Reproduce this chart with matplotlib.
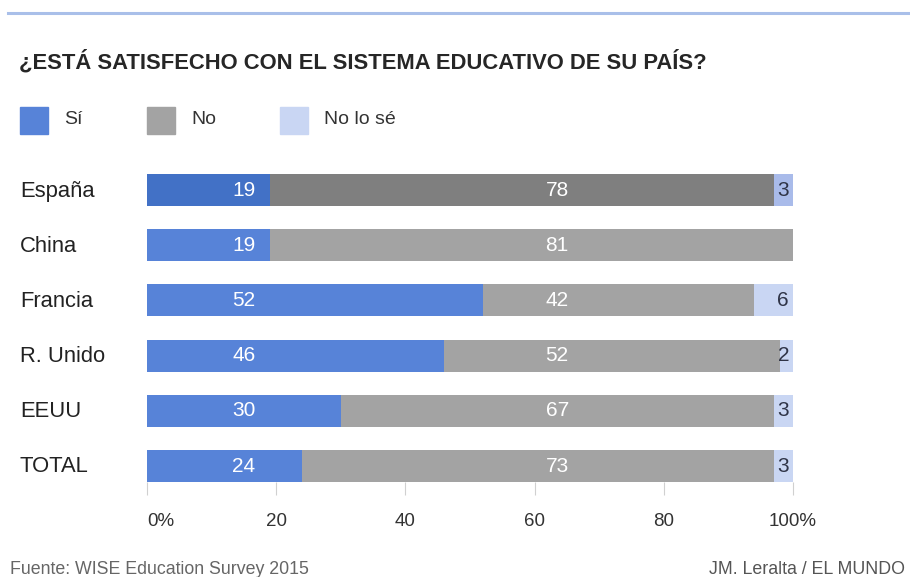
import matplotlib
matplotlib.use("Agg")
import matplotlib.pyplot as plt
from matplotlib import font_manager as fm
from matplotlib.patches import Rectangle
from matplotlib.lines import Line2D

names = {f.name for f in fm.fontManager.ttflist}
REG = "Liberation Sans" if "Liberation Sans" in names else "DejaVu Sans"

categories = ["España", "China", "Francia", "R. Unido", "EEUU", "TOTAL"]
si = [19, 19, 52, 46, 30, 24]
no = [78, 81, 42, 52, 67, 73]
nose = [3, 0, 6, 2, 3, 3]
xticks = [0, 20, 40, 60, 80, 100]
xticklabels = ["0%", "20", "40", "60", "80", "100%"]
series_names = ["Sí", "No", "No lo sé"]

c_si, c_no, c_ns = "#5783d8", "#a3a3a3", "#c9d6f3"
c_si_h, c_no_h, c_ns_h = "#4271c6", "#7f7f7f", "#a9bbea"

W, H = 910, 577
fig = plt.figure(figsize=(W / 100, H / 100), dpi=100)

def fx(px):
    return px / W
def fy(py):
    return 1 - py / H

top_px, bot_px = 160, 482
ax = fig.add_axes([fx(147), fy(bot_px), fx(793) - fx(147), (bot_px - top_px) / H])
spacing = 55.2
ax.set_xlim(0, 100)
ax.set_ylim((bot_px - 190) / spacing, (top_px - 190) / spacing)
for s in ax.spines.values():
    s.set_visible(False)

# value labels sit at fixed columns, as in the original
lab_x_si, lab_x_no, lab_x_ns = 15, 63.5, 99.4

ys = list(range(len(categories)))
bh = 32 / spacing
for i, y in enumerate(ys):
    hl = i == 0
    cs = (c_si_h, c_no_h, c_ns_h) if hl else (c_si, c_no, c_ns)
    ax.barh(y, si[i], left=0, height=bh, color=cs[0], linewidth=0)
    ax.barh(y, no[i], left=si[i], height=bh, color=cs[1], linewidth=0)
    if nose[i]:
        ax.barh(y, nose[i], left=si[i] + no[i], height=bh, color=cs[2], linewidth=0)
    ax.text(lab_x_si, y, str(si[i]), ha="center", va="center", color="white",
            fontsize=15, family=REG)
    ax.text(lab_x_no, y, str(no[i]), ha="center", va="center", color="white",
            fontsize=15, family=REG)
    if nose[i]:
        ax.text(lab_x_ns, y, str(nose[i]), ha="right", va="center", color="#2f3447",
                fontsize=15, family=REG)

ax.set_yticks([])
ax.set_xticks(xticks)
ax.set_xticklabels(xticklabels, family=REG, fontsize=13.5, color="#333333")
ax.get_xticklabels()[0].set_ha("left")
ax.tick_params(axis="x", direction="out", length=9.5, width=0.8, color="#d0d0d0",
               pad=12.5)

for i, y in enumerate(ys):
    py = 191 + spacing * i
    fig.text(fx(20), fy(py), categories[i], ha="left", va="center", fontsize=15.8,
             family=REG, color="#222222")

fig.add_artist(Line2D([fx(8), fx(910)], [fy(13), fy(13)], color="#a9bfe9", lw=2.2))

fig.text(fx(19), fy(62), "¿ESTÁ SATISFECHO CON EL SISTEMA EDUCATIVO DE SU PAÍS?",
         ha="left", va="center", fontsize=15.8, fontweight="bold", family=REG,
         color="#262626")

leg_x = [20, 147, 280]
leg_cols = [c_si, c_no, c_ns]
for lx, lc, ln in zip(leg_x, leg_cols, series_names):
    fig.add_artist(Rectangle((fx(lx), fy(134)), 28 / W, 27 / H, color=lc,
                             transform=fig.transFigure))
    fig.text(fx(lx + 44), fy(120), ln, ha="left", va="center", fontsize=14,
             family=REG, color="#333333")

fig.text(fx(10), fy(569), "Fuente: WISE Education Survey 2015", ha="left", va="center",
         fontsize=12.8, family=REG, color="#666666")
fig.text(fx(905), fy(569), "JM. Leralta / EL MUNDO", ha="right", va="center",
         fontsize=12.8, family=REG, color="#555555")

fig.savefig("out.png", dpi=100)
